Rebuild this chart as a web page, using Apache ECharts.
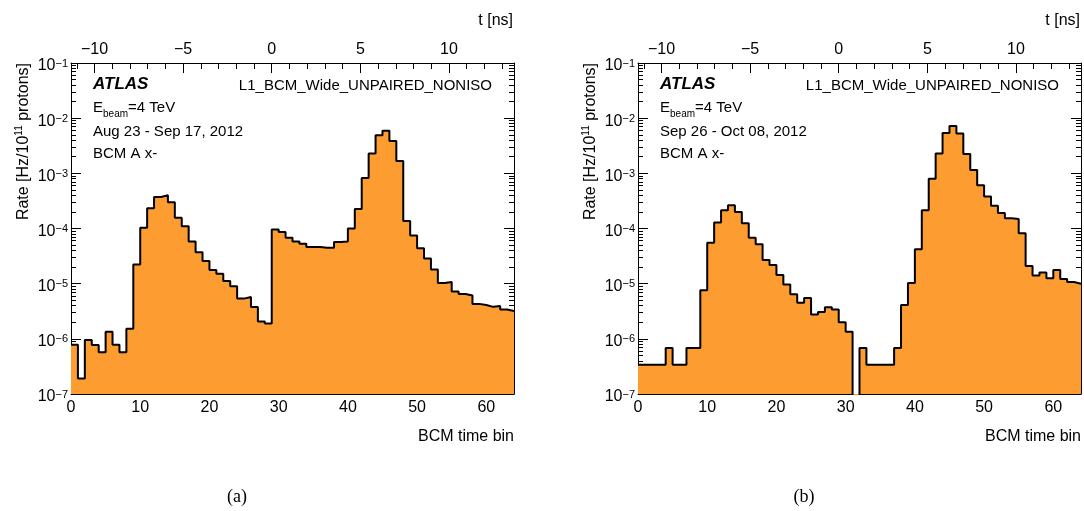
<!DOCTYPE html>
<html>
<head>
<meta charset="utf-8">
<script src="https://cdn.jsdelivr.net/npm/echarts@6/dist/echarts.min.js"></script>
<style>
html, body { margin: 0; padding: 0; background: #fff; }
#chart { width: 1084px; height: 511px; }
</style>
</head>
<body>
<div id="chart"></div>
<script>
// BCM time bins 0..63, rate per bin
var binCount = 64;
var rateA = [
  7.8e-7, 1.9e-7, 9.5e-7, 7.7e-7, 5.7e-7, 1.34e-6, 7.8e-7, 5.7e-7, 1.52e-6, 2.23e-5,
  1.03e-4, 2.33e-4, 3.73e-4, 4.0e-4, 2.99e-4, 1.56e-4, 1.1e-4, 5.8e-5, 3.73e-5, 2.57e-5,
  1.77e-5, 1.52e-5, 1.12e-5, 8.95e-6, 5.36e-6, 5.74e-6, 3.79e-6, 2.06e-6, 1.89e-6, 9.6e-5,
  8.6e-5, 6.8e-5, 5.8e-5, 5.3e-5, 4.6e-5, 4.6e-5, 4.5e-5, 4.5e-5, 5.7e-5, 5.8e-5,
  1.0e-4, 2.26e-4, 8.2e-4, 2.3e-3, 4.9e-3, 5.9e-3, 3.85e-3, 1.68e-3, 1.37e-4, 7.5e-5,
  4.4e-5, 2.85e-5, 1.8e-5, 1.03e-5, 1.07e-5, 7.2e-6, 6.5e-6, 6.1e-6, 4.3e-6, 4.1e-6,
  3.8e-6, 3.95e-6, 3.4e-6, 3.2e-6
];
// bin 31 of panel (b) is empty: kept below the axis minimum so it is clipped
var rateB = [
  3.4e-7, 3.4e-7, 3.4e-7, 3.4e-7, 6.8e-7, 3.4e-7, 3.4e-7, 6.8e-7, 6.8e-7, 7.6e-6,
  5.5e-5, 1.28e-4, 2.14e-4, 2.64e-4, 2.0e-4, 1.25e-4, 6.8e-5, 5.2e-5, 2.68e-5, 2.17e-5,
  1.43e-5, 9.7e-6, 6.4e-6, 4.5e-6, 5.5e-6, 2.75e-6, 3.05e-6, 3.75e-6, 3.4e-6, 2.0e-6,
  1.35e-6, 1e-9, 6.8e-7, 3.4e-7, 3.4e-7, 3.4e-7, 3.4e-7, 6.8e-7, 4.1e-6, 1.03e-5,
  4.2e-5, 2.15e-4, 8.0e-4, 2.3e-3, 5.4e-3, 7.2e-3, 5.3e-3, 2.25e-3, 1.15e-3, 6.1e-4,
  3.8e-4, 2.58e-4, 1.9e-4, 1.53e-4, 1.48e-4, 8.2e-5, 2.1e-5, 1.4e-5, 1.6e-5, 1.25e-5,
  1.77e-5, 1.21e-5, 1.07e-5, 1.0e-5
];
var dates = ['Aug 23 - Sep 17, 2012', 'Sep 26 - Oct 08, 2012'];
var tags = ['(a)', '(b)'];
var trigger = 'L1_BCM_Wide_UNPAIRED_NONISO';

// top axis: t [ns], bin 29 is t = 0, 25/64 ns per bin
var nsPerBin = 25 / 64;
var zeroBin = 29;
var tMin = -zeroBin * nsPerBin;
var tMax = (binCount - zeroBin) * nsPerBin;

// log minor ticks 2..9 x 10^n (in log10 units)
var minorLog = [];
for (var n = -7; n < -1; n++) {
  for (var m = 2; m <= 9; m++) minorLog.push(n + Math.log10(m));
}

var FONT = '"Liberation Sans", Arial, Helvetica, sans-serif';
var FILL = '#fd9c31';

function histData(rates) {
  var d = [];
  for (var i = 0; i < binCount; i++) d.push([i, rates[i]]);
  d.push([binCount, rates[binCount - 1]]);
  return d;
}
function minus(v) {
  return v < 0 ? '\u2212' + (-v) : String(v);
}

var chart = echarts.init(document.getElementById('chart'));
var panelLeft = [71, 638];
var grid = [], xAxis = [], yAxis = [], series = [], graphic = [];

[rateA, rateB].forEach(function (rates, i) {
  var L = panelLeft[i];
  grid.push({ left: L, top: 63, width: 443, height: 331, outerBoundsMode: 'none', containLabel: false });

  // bottom: BCM time bin
  xAxis.push({
    type: 'value', gridIndex: i, position: 'bottom', min: 0, max: binCount, interval: 10,
    axisLine: { onZero: false, lineStyle: { color: '#000', width: 1 } },
    axisTick: { inside: true, length: 10, lineStyle: { color: '#000' } },
    minorTick: { show: true, splitNumber: 5, length: 5, lineStyle: { color: '#000' } },
    axisLabel: { color: '#000', fontSize: 16, fontFamily: FONT, margin: 6, showMaxLabel: false, showMinLabel: true, hideOverlap: false },
    splitLine: { show: false }
  });
  // top: t [ns]
  xAxis.push({
    type: 'value', gridIndex: i, position: 'top', min: tMin, max: tMax,
    axisLine: { onZero: false, lineStyle: { color: '#000', width: 1 } },
    axisTick: { inside: true, length: 10, lineStyle: { color: '#000' } },
    minorTick: { show: true, splitNumber: 5, length: 6, lineStyle: { color: '#000' } },
    axisLabel: { color: '#000', fontSize: 16, fontFamily: FONT, margin: 5, showMinLabel: false, showMaxLabel: false, formatter: minus, hideOverlap: false },
    splitLine: { show: false }
  });

  ['left', 'right'].forEach(function (side) {
    yAxis.push({
      type: 'log', logBase: 10, gridIndex: i, position: side, min: 1e-7, max: 1e-1,
      axisLine: { onZero: false, show: true, lineStyle: { color: '#000', width: 1 } },
      axisTick: { inside: true, length: 10, lineStyle: { color: '#000' } },
      axisLabel: {
        show: side === 'left', margin: 3, color: '#000', fontFamily: FONT,
        formatter: function (v) {
          var e = Math.round(Math.log10(v));
          return '{b|10}{s|' + minus(e) + '}';
        },
        rich: {
          b: { fontSize: 16, fontFamily: FONT, color: '#000', lineHeight: 16, padding: [6, 0, 0, 0] },
          s: { fontSize: 11, fontFamily: FONT, color: '#000', lineHeight: 11, verticalAlign: 'top', padding: [3, 0, 0, 0] }
        }
      },
      splitLine: { show: false }
    });
  });
  ['left', 'right'].forEach(function (side) {
    yAxis.push({
      type: 'value', gridIndex: i, position: side, min: -7, max: -1,
      axisLine: { show: false, onZero: false },
      axisTick: { inside: true, length: 5, customValues: minorLog, lineStyle: { color: '#000' } },
      axisLabel: { show: false },
      splitLine: { show: false }
    });
  });

  series.push({
    type: 'line', xAxisIndex: 2 * i, yAxisIndex: 4 * i, step: 'end',
    data: histData(rates), symbol: 'none', showSymbol: false, clip: true,
    lineStyle: { color: '#000', width: 2 },
    areaStyle: { color: FILL, opacity: 1, origin: 'start' },
    z: 1
  });

  var t = function (x, y, text, extra) {
    var st = { text: text, fill: '#000', font: '15px ' + FONT, verticalAlign: 'middle', align: 'left' };
    for (var k in extra) st[k] = extra[k];
    graphic.push({ type: 'text', x: x, y: y, z: 100, style: st });
  };
  var off = L - 71;
  t(93 + off, 84, 'ATLAS', { font: 'italic bold 17px ' + FONT });
  t(93 + off, 108, '{e|E}{b|beam}{e|=4 TeV}', {
    rich: {
      e: { fontSize: 15, fontFamily: FONT, fill: '#000', lineHeight: 22 },
      b: { fontSize: 10, fontFamily: FONT, fill: '#000', lineHeight: 10, verticalAlign: 'bottom' }
    }
  });
  t(93 + off, 132, dates[i]);
  t(93 + off, 154, 'BCM A x-');
  t(492 + off, 86, trigger, { align: 'right' });
  t(513 + off, 21, 't [ns]', { align: 'right', font: '16px ' + FONT });
  t(514 + off, 437, 'BCM time bin', { align: 'right', font: '16px ' + FONT });
  t(237 + off, 497, tags[i], { align: 'center', font: '18px "Liberation Serif", "Times New Roman", serif' });
  graphic.push({
    type: 'text', x: 24 + off, y: 63, rotation: Math.PI / 2, z: 100,
    style: {
      text: '{a|Rate [Hz/10}{s|11}{a| protons]}', align: 'right', verticalAlign: 'middle', fill: '#000',
      rich: {
        a: { fontSize: 16, fontFamily: FONT, fill: '#000', lineHeight: 20 },
        s: { fontSize: 10, fontFamily: FONT, fill: '#000', lineHeight: 10, verticalAlign: 'top' }
      }
    }
  });
});

chart.setOption({
  animation: false,
  backgroundColor: '#fff',
  grid: grid,
  xAxis: xAxis,
  yAxis: yAxis,
  series: series,
  graphic: graphic
});
</script>
</body>
</html>
